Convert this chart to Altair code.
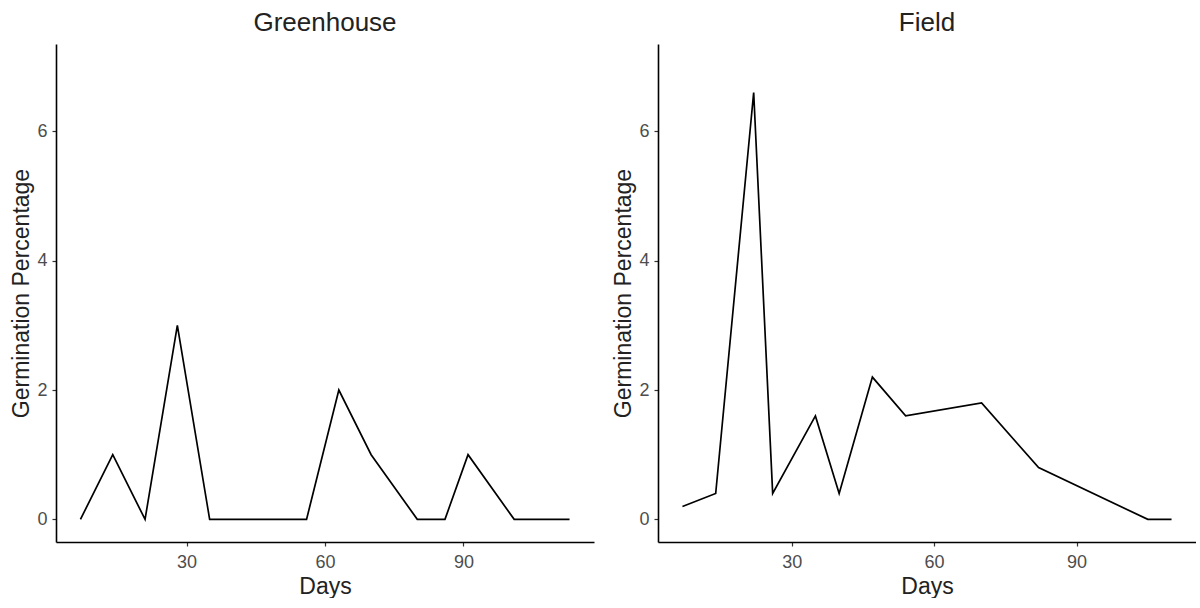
import altair as alt
import pandas as pd

# Greenhouse series
gh_days = [7, 14, 21, 28, 35, 42, 49, 56, 63, 70, 80, 86, 91, 101, 113]
gh_germ = [0, 1, 0, 3, 0, 0, 0, 0, 2, 1, 0, 0, 1, 0, 0]

# Field series
fd_days = [7, 14, 22, 26, 35, 40, 47, 54, 70, 82, 105, 110]
fd_germ = [0.2, 0.4, 6.6, 0.4, 1.6, 0.4, 2.2, 1.6, 1.8, 0.8, 0.0, 0.0]

x_ticks = [30, 60, 90]
y_ticks = [0, 2, 4, 6]

FONT = "Liberation Sans"


def panel(days, germ, title, xdom):
    df = pd.DataFrame({"Days": days, "Germ": germ})
    return (
        alt.Chart(df, title=alt.Title(title, fontSize=26, font=FONT, fontWeight="normal",
                                      color="#222222", anchor="middle", frame="group", offset=8))
        .mark_line(color="black", strokeWidth=1.7)
        .encode(
            x=alt.X("Days:Q",
                    scale=alt.Scale(domain=xdom, nice=False, zero=False),
                    axis=alt.Axis(title="Days", values=x_ticks, grid=False,
                                  domainColor="black", domainWidth=1.6,
                                  tickColor="#333333", tickSize=4, tickWidth=1.2,
                                  labelFontSize=18, labelColor="#4d4d4d", labelFont=FONT,
                                  labelPadding=7, titleFontSize=23, titleFont=FONT,
                                  titleFontWeight="normal", titleColor="#222222",
                                  titlePadding=4)),
            y=alt.Y("Germ:Q",
                    scale=alt.Scale(domain=[-0.35, 7.35], nice=False, zero=False),
                    axis=alt.Axis(title="Germination Percentage", values=y_ticks, grid=False,
                                  domainColor="black", domainWidth=1.6,
                                  tickColor="#333333", tickSize=4, tickWidth=1.2,
                                  labelFontSize=18, labelColor="#4d4d4d", labelFont=FONT,
                                  labelPadding=5, titleFontSize=23, titleFont=FONT,
                                  titleFontWeight="normal", titleColor="#222222",
                                  titlePadding=3)),
        )
        .properties(width=538, height=498,
                    view=alt.ViewBackground(stroke="white", strokeWidth=0, strokeOpacity=0))
    )


left = panel(gh_days, gh_germ, "Greenhouse", [1.7, 118.3])
right = panel(fd_days, fd_germ, "Field", [1.85, 115.15])

chart = (
    alt.hconcat(left, right, spacing=64, bounds="flush")
    .properties(padding={"left": 10, "top": 10, "right": 0, "bottom": 0})
    .configure_view(strokeWidth=0, strokeOpacity=0)
    .configure(background="white")
)

chart.save("out.html", embed_options={"renderer": "svg", "actions": False})
